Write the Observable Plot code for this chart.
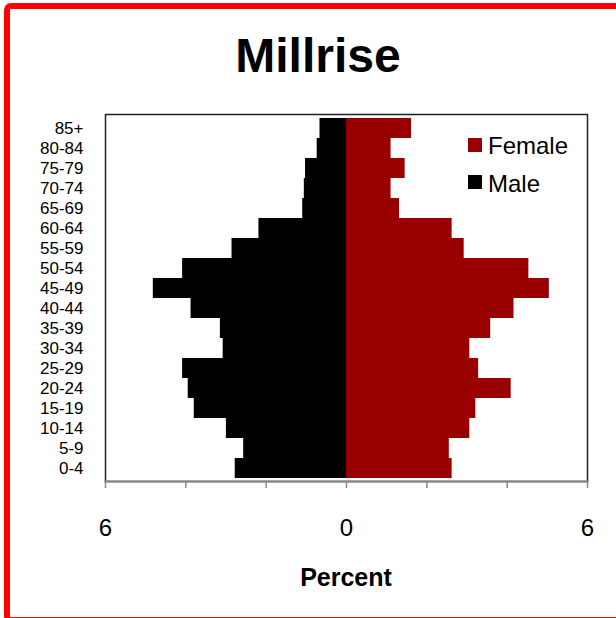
<!DOCTYPE html>
<html>
<head>
<meta charset="utf-8">
<script src="https://cdn.jsdelivr.net/npm/d3@7"></script>
<script src="https://cdn.jsdelivr.net/npm/@observablehq/plot@0.6"></script>
<style>
  html, body { margin: 0; padding: 0; background: white; }
  svg { display: block; }
</style>
</head>
<body>
<div id="chart"></div>
<script>
const title = "Millrise";
const xLabel = "Percent";
const ages = ["0-4","5-9","10-14","15-19","20-24","25-29","30-34","35-39","40-44","45-49","50-54","55-59","60-64","65-69","70-74","75-79","80-84","85+"];
const male =   [2.77,2.56,2.99,3.79,3.94,4.08,3.07,3.14,3.87,4.81,4.08,2.85,2.18,1.09,1.05,1.02,0.73,0.66];
const female = [2.63,2.56,3.07,3.22,4.10,3.29,3.07,3.59,4.17,5.05,4.54,2.93,2.63,1.32,1.11,1.46,1.11,1.62];
const xTicks = [-6,-4,-2,0,2,4,6];
const xTickLabels = [-6,0,6];
const seriesNames = ["Female","Male"];
const seriesColors = ["#990000","#000000"];

const rows = ages.map((a, i) => ({age: a, male: male[i], female: female[i]}));
const font = "'Liberation Sans', Arial, Helvetica, sans-serif";

const chart = Plot.plot({
  width: 616,
  height: 618,
  marginLeft: 105,
  marginRight: 29,
  marginTop: 114,
  marginBottom: 137,
  style: {fontFamily: font, color: "black", background: "white", overflow: "hidden"},
  x: {domain: [-6, 6]},
  y: {domain: ages.slice().reverse(), padding: 0},
  marks: [
    Plot.barX(rows, {y: "age", x1: 0, x2: d => -d.male, fill: seriesColors[1]}),
    Plot.barX(rows, {y: "age", x1: 0, x2: "female", fill: seriesColors[0]}),
    Plot.frame({stroke: "#222", strokeWidth: 1.5}),
    Plot.frame({anchor: "bottom", stroke: "#888", strokeWidth: 2}),
    Plot.axisY({tickSize: 0, tickPadding: 22, fontSize: 17, label: null}),
    Plot.axisX({
      ticks: xTicks,
      tickFormat: d => xTickLabels.includes(d) ? String(Math.abs(d)) : "",
      tickSize: 7,
      tickPadding: 30,
      fontSize: 24,
      stroke: "#888",
      strokeWidth: 1.5,
      label: null
    })
  ]
});

document.getElementById("chart").appendChild(chart);
const svg = d3.select(chart);

// border
svg.insert("rect", ":first-child")
  .attr("x", 7).attr("y", 6).attr("width", 720).attr("height", 614)
  .attr("rx", 4).attr("fill", "none").attr("stroke", "#ff0000").attr("stroke-width", 6);

svg.append("text")
  .attr("x", 318).attr("y", 72).attr("text-anchor", "middle")
  .attr("font-family", font).attr("font-size", 48).attr("font-weight", "bold")
  .attr("fill", "black").text(title);

svg.append("text")
  .attr("x", 346).attr("y", 586).attr("text-anchor", "middle")
  .attr("font-family", font).attr("font-size", 25).attr("font-weight", "bold")
  .attr("fill", "black").text(xLabel);

const legendY = [138, 175];
const legendBase = [154, 191.5];
seriesNames.forEach((name, i) => {
  svg.append("rect").attr("x", 468).attr("y", legendY[i]).attr("width", 14).attr("height", 14)
    .attr("fill", seriesColors[i]);
  svg.append("text").attr("x", 488).attr("y", legendBase[i]).attr("text-anchor", "start")
    .attr("font-family", font).attr("font-size", 24).attr("fill", "black").text(name);
});
</script>
</body>
</html>
